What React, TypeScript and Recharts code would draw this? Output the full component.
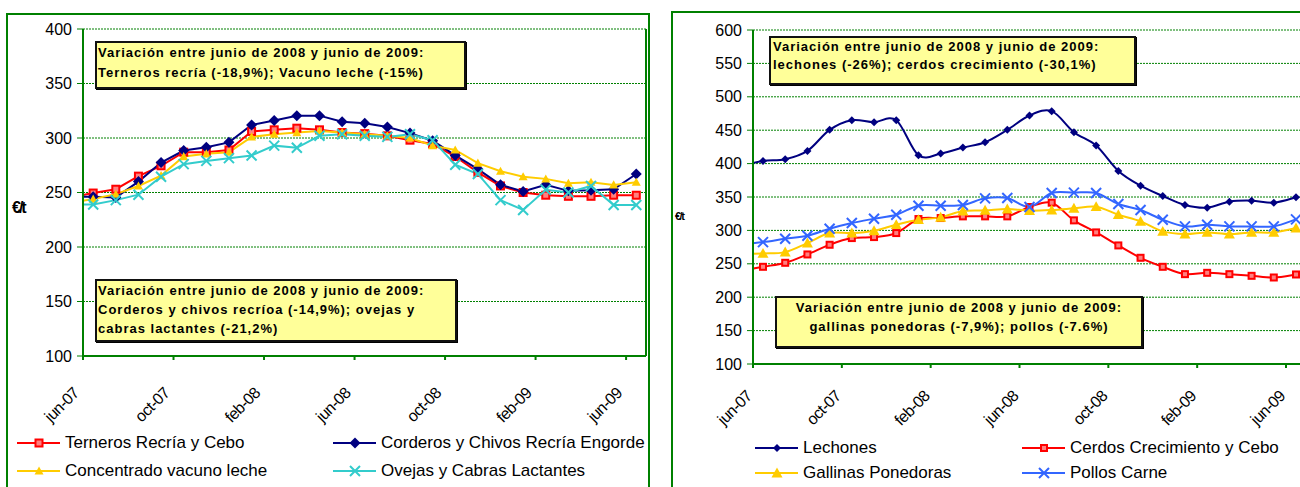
import React from 'react';
import { LineChart, Line, XAxis, YAxis, CartesianGrid, ReferenceLine } from 'recharts';

// may-07 is only there so the line enters from the left edge (clipped)
const months = [
  'may-07', 'jun-07', 'jul-07', 'ago-07', 'sep-07', 'oct-07', 'nov-07', 'dic-07', 'ene-08',
  'feb-08', 'mar-08', 'abr-08', 'may-08', 'jun-08', 'jul-08', 'ago-08', 'sep-08', 'oct-08',
  'nov-08', 'dic-08', 'ene-09', 'feb-09', 'mar-09', 'abr-09', 'may-09', 'jun-09',
];
const tickLabels = ['jun-07', 'oct-07', 'feb-08', 'jun-08', 'oct-08', 'feb-09', 'jun-09'];

// rumiantes (€/t)
const terneros = [245.5, 249.5, 253, 265, 274.5, 287, 287, 289, 306, 307.5, 309, 307.5, 305, 304, 302, 298, 294.5, 283, 268.5, 256, 250, 247.5, 246.5, 246.5, 247.5, 247.5];
const corderos = [246, 246, 245.5, 260, 277.5, 288.5, 291.5, 296, 312, 316, 320.5, 320.5, 315, 313.5, 310, 304.5, 297.5, 284, 271.5, 257, 251, 257, 251.5, 252, 253, 267];
const concentrado = [240.5, 244, 248.5, 256, 265.5, 283, 285.5, 287, 301, 303.5, 305, 306.5, 305, 303.5, 302, 300, 293, 289, 277, 269.5, 264.5, 262.5, 258.5, 259.5, 257, 259.5];
const ovejas = [239, 239, 243, 248, 264.5, 276, 279, 281.5, 284, 293, 291, 302, 303.5, 302, 301, 303.5, 298, 275.5, 267, 243, 234, 252.5, 250, 256, 238.5, 238.5];

// porcino y aves (€/t)
const lechones = [396, 404, 406.5, 419, 450.5, 465, 462, 465, 412.5, 415, 424, 432, 450.5, 472, 478.5, 447, 427, 389, 367, 351.5, 338, 334, 343, 344.5, 341.5, 349.5];
const cerdos = [239.5, 245.5, 251.5, 264, 278.5, 288.5, 290, 296, 317, 318.5, 321, 321, 321, 335, 341.5, 315, 297, 277.5, 259, 245.5, 234.5, 236.5, 234.5, 232, 229.5, 234];
const gallinas = [265, 265.5, 267.5, 281, 296, 296, 299.5, 308.5, 316, 319.5, 329, 330, 332, 329.5, 330.5, 333, 335.5, 323.5, 313.5, 298.5, 294.5, 297, 294.5, 297, 297, 303.5];
const pollos = [279, 282.5, 287.5, 292, 302.5, 311, 317.5, 323.5, 337, 337, 338, 348, 348.5, 335, 356, 356.5, 356, 339.5, 330.5, 316, 306, 308.5, 306, 306, 306, 316.5];

const leftTicks = [100, 150, 200, 250, 300, 350, 400];
const rightTicks = [100, 150, 200, 250, 300, 350, 400, 450, 500, 550, 600];

const GREEN = '#008000';
const FONT = '"Liberation Sans", Arial, sans-serif';

// points sit around mid-month
const monthPos = months.map((_, i) => i - 1 + 0.45);
const xTicks = tickLabels.map((_, i) => i * 4);

const leftData = months.map((m, i) => ({
  mes: m, x: monthPos[i],
  terneros: terneros[i], corderos: corderos[i], concentrado: concentrado[i], ovejas: ovejas[i],
}));
const rightData = months.map((m, i) => ({
  mes: m, x: monthPos[i],
  lechones: lechones[i], cerdos: cerdos[i], gallinas: gallinas[i], pollos: pollos[i],
}));

type Shape = 'square' | 'diamond' | 'triangle' | 'x';

function Marker({ cx, cy, shape, color, size }: { cx: number; cy: number; shape: Shape; color: string; size: number }) {
  const r = size / 2;
  if (shape === 'square')
    return <rect x={cx - r} y={cy - r} width={size} height={size} fill="#ff8080" stroke={color} strokeWidth={2} />;
  if (shape === 'diamond')
    return <polygon points={`${cx},${cy - r} ${cx + r},${cy} ${cx},${cy + r} ${cx - r},${cy}`} fill={color} />;
  if (shape === 'triangle')
    return <polygon points={`${cx},${cy - r} ${cx + r},${cy + r * 0.8} ${cx - r},${cy + r * 0.8}`} fill={color} />;
  return (
    <path d={`M${cx - r},${cy - r}L${cx + r},${cy + r}M${cx - r},${cy + r}L${cx + r},${cy - r}`} stroke={color} strokeWidth={2} fill="none" />
  );
}

// Excel-like smoothed line (Catmull-Rom)
const smooth: any = (ctx: any) => {
  let pts: number[][] = [];
  return {
    areaStart() {},
    areaEnd() {},
    lineStart() { pts = []; },
    point(x: number, y: number) { pts.push([+x, +y]); },
    lineEnd() {
      if (!pts.length) return;
      ctx.moveTo(pts[0][0], pts[0][1]);
      const t = 1 / 6;
      for (let i = 0; i < pts.length - 1; i++) {
        const p0 = pts[i - 1] || pts[i];
        const p1 = pts[i];
        const p2 = pts[i + 1];
        const p3 = pts[i + 2] || p2;
        ctx.bezierCurveTo(
          p1[0] + (p2[0] - p0[0]) * t, p1[1] + (p2[1] - p0[1]) * t,
          p2[0] - (p3[0] - p1[0]) * t, p2[1] - (p3[1] - p1[1]) * t,
          p2[0], p2[1],
        );
      }
    },
  };
};

const dotFor = (shape: Shape, color: string, size: number) => (p: any) =>
  p.payload.x < 0 || p.cx == null
    ? <g key={`d${p.index}`} />
    : <Marker key={`d${p.index}`} cx={p.cx} cy={p.cy} shape={shape} color={color} size={size} />;

const makeXTick = (dx: number, dy: number) => (props: any) => {
  const { x, y, payload } = props;
  const px = x + dx;
  const py = y + dy;
  return (
    <text x={px} y={py} transform={`rotate(-45, ${px}, ${py})`} textAnchor="end" fontSize={16} letterSpacing={-0.6} fill="#000" fontFamily={FONT}>
      {tickLabels[Math.round(payload.value / 4)]}
    </text>
  );
};

function LegendItem({ left, top, label, shape, color, size }: { left: number; top: number; label: string; shape: Shape; color: string; size: number }) {
  return (
    <div style={{ position: 'absolute', left, top: top - 12, height: 24, display: 'flex', alignItems: 'center', whiteSpace: 'nowrap' }}>
      <svg width={44} height={24} style={{ display: 'block' }}>
        <line x1={0} y1={12} x2={43} y2={12} stroke={color} strokeWidth={2} />
        <Marker cx={22} cy={12} shape={shape} color={color} size={size} />
      </svg>
      <span style={{ fontSize: 17, marginLeft: 4, color: '#000' }}>{label}</span>
    </div>
  );
}

const boxStyle: React.CSSProperties = {
  position: 'absolute',
  background: '#FFFF99',
  border: '2px solid #111',
  boxShadow: '1px 1px 0 #000',
  boxSizing: 'border-box',
  fontWeight: 'bold',
  fontSize: 13,
  letterSpacing: 1,
  color: '#000',
  whiteSpace: 'nowrap',
};

export default function App() {
  return (
    <div style={{ position: 'absolute', left: 0, top: 0, width: 1300, height: 487, overflow: 'hidden', background: '#fff', fontFamily: FONT }}>
      {/* outer frames */}
      <div style={{ position: 'absolute', left: 6, top: 13, width: 644, height: 500, border: `2px solid ${GREEN}`, boxSizing: 'border-box' }} />
      <div style={{ position: 'absolute', left: 671, top: 11, width: 700, height: 500, border: `2px solid ${GREEN}`, boxSizing: 'border-box' }} />

      {/* left chart */}
      <div style={{ position: 'absolute', left: 0, top: 0 }}>
        <LineChart width={660} height={487} data={leftData} margin={{ top: 29, right: 14, bottom: 71, left: 23 }}>
          <CartesianGrid horizontal vertical={false} stroke={GREEN} strokeDasharray="2 1" />
          <XAxis
            type="number" dataKey="x" domain={[0, 24.88]} allowDataOverflow ticks={xTicks} interval={0}
            height={60} axisLine={{ stroke: GREEN, strokeWidth: 2 }} tickLine={{ stroke: GREEN, strokeWidth: 2 }} tickSize={4}
            tick={makeXTick(-3, 32)}
          />
          <YAxis
            type="number" domain={[100, 400]} ticks={leftTicks} interval={0} width={60}
            axisLine={{ stroke: GREEN, strokeWidth: 2 }} tickLine={{ stroke: GREEN }} tickSize={6} tickMargin={5}
            tick={{ fill: '#000', fontSize: 16, fontFamily: FONT }}
          />
          <ReferenceLine x={24.88} stroke={GREEN} strokeWidth={2} />
          <Line dataKey="terneros" name="Terneros Recría y Cebo" stroke="#FF0000" strokeWidth={2} dot={dotFor('square', '#FF0000', 7)} activeDot={false} isAnimationActive={false} />
          <Line dataKey="corderos" name="Corderos y Chivos Recría Engorde" stroke="#000080" strokeWidth={2} dot={dotFor('diamond', '#000080', 11)} activeDot={false} isAnimationActive={false} />
          <Line dataKey="concentrado" name="Concentrado vacuno leche" stroke="#FFCC00" strokeWidth={2} dot={dotFor('triangle', '#FFCC00', 9)} activeDot={false} isAnimationActive={false} />
          <Line dataKey="ovejas" name="Ovejas y Cabras Lactantes" stroke="#33CCCC" strokeWidth={2} dot={dotFor('x', '#33CCCC', 10)} activeDot={false} isAnimationActive={false} />
        </LineChart>
      </div>

      {/* right chart */}
      <div style={{ position: 'absolute', left: 660, top: 0 }}>
        <LineChart width={660} height={487} data={rightData} margin={{ top: 30, right: 14, bottom: 63, left: 30 }}>
          <CartesianGrid horizontal vertical={false} stroke={GREEN} strokeDasharray="2 1" />
          <XAxis
            type="number" dataKey="x" domain={[0, 24.9]} allowDataOverflow ticks={xTicks} interval={0}
            height={60} axisLine={{ stroke: GREEN, strokeWidth: 2 }} tickLine={{ stroke: GREEN, strokeWidth: 2 }} tickSize={4}
            tick={makeXTick(0, 27)}
          />
          <YAxis
            type="number" domain={[100, 600]} ticks={rightTicks} interval={0} width={63}
            axisLine={{ stroke: GREEN, strokeWidth: 2 }} tickLine={{ stroke: GREEN }} tickSize={6} tickMargin={5}
            tick={{ fill: '#000', fontSize: 16, fontFamily: FONT }}
          />
          <Line type={smooth} dataKey="lechones" name="Lechones" stroke="#000080" strokeWidth={2} dot={dotFor('diamond', '#000080', 8)} activeDot={false} isAnimationActive={false} />
          <Line type={smooth} dataKey="cerdos" name="Cerdos Crecimiento y Cebo" stroke="#FF0000" strokeWidth={2} dot={dotFor('square', '#FF0000', 6)} activeDot={false} isAnimationActive={false} />
          <Line type={smooth} dataKey="gallinas" name="Gallinas Ponedoras" stroke="#FFCC00" strokeWidth={2} dot={dotFor('triangle', '#FFCC00', 11)} activeDot={false} isAnimationActive={false} />
          <Line type={smooth} dataKey="pollos" name="Pollos Carne" stroke="#3366FF" strokeWidth={2} dot={dotFor('x', '#3366FF', 10)} activeDot={false} isAnimationActive={false} />
        </LineChart>
      </div>

      {/* axis titles */}
      <div style={{ position: 'absolute', left: 12, top: 199, fontSize: 16, fontWeight: 'bold', letterSpacing: -2 }}>€/t</div>
      <div style={{ position: 'absolute', left: 675, top: 210, fontSize: 11, fontWeight: 'bold', letterSpacing: -1.5 }}>€/t</div>

      {/* notes */}
      <div style={{ ...boxStyle, left: 95, top: 41, width: 371, height: 48, lineHeight: '20px', paddingLeft: 1 }}>
        Variación entre junio de 2008 y junio de 2009:<br />Terneros recría (-18,9%); Vacuno leche (-15%)
      </div>
      <div style={{ ...boxStyle, left: 95, top: 279, width: 362, height: 63, lineHeight: '19px', paddingLeft: 1 }}>
        Variación entre junio de 2008 y junio de 2009:<br />Corderos y chivos recríoa (-14,9%); ovejas y<br />cabras lactantes (-21,2%)
      </div>
      <div style={{ ...boxStyle, left: 769, top: 36, width: 367, height: 49, lineHeight: '18px', paddingLeft: 2 }}>
        Variación entre junio de 2008 y junio de 2009:<br />lechones (-26%); cerdos crecimiento (-30,1%)
      </div>
      <div style={{ ...boxStyle, left: 775, top: 296, width: 368, height: 52, lineHeight: '19px', textAlign: 'center' }}>
        Variación entre junio de 2008 y junio de 2009:<br />gallinas ponedoras (-7,9%); pollos (-7.6%)
      </div>

      {/* legends */}
      <LegendItem left={17} top={443} label="Terneros Recría y Cebo" shape="square" color="#FF0000" size={7} />
      <LegendItem left={333} top={443} label="Corderos y Chivos Recría Engorde" shape="diamond" color="#000080" size={11} />
      <LegendItem left={17} top={471} label="Concentrado vacuno leche" shape="triangle" color="#FFCC00" size={9} />
      <LegendItem left={333} top={471} label="Ovejas y Cabras Lactantes" shape="x" color="#33CCCC" size={10} />
      <LegendItem left={755} top={448} label="Lechones" shape="diamond" color="#000080" size={8} />
      <LegendItem left={1022} top={448} label="Cerdos Crecimiento y Cebo" shape="square" color="#FF0000" size={6} />
      <LegendItem left={755} top={473} label="Gallinas Ponedoras" shape="triangle" color="#FFCC00" size={11} />
      <LegendItem left={1022} top={473} label="Pollos Carne" shape="x" color="#3366FF" size={10} />
    </div>
  );
}
